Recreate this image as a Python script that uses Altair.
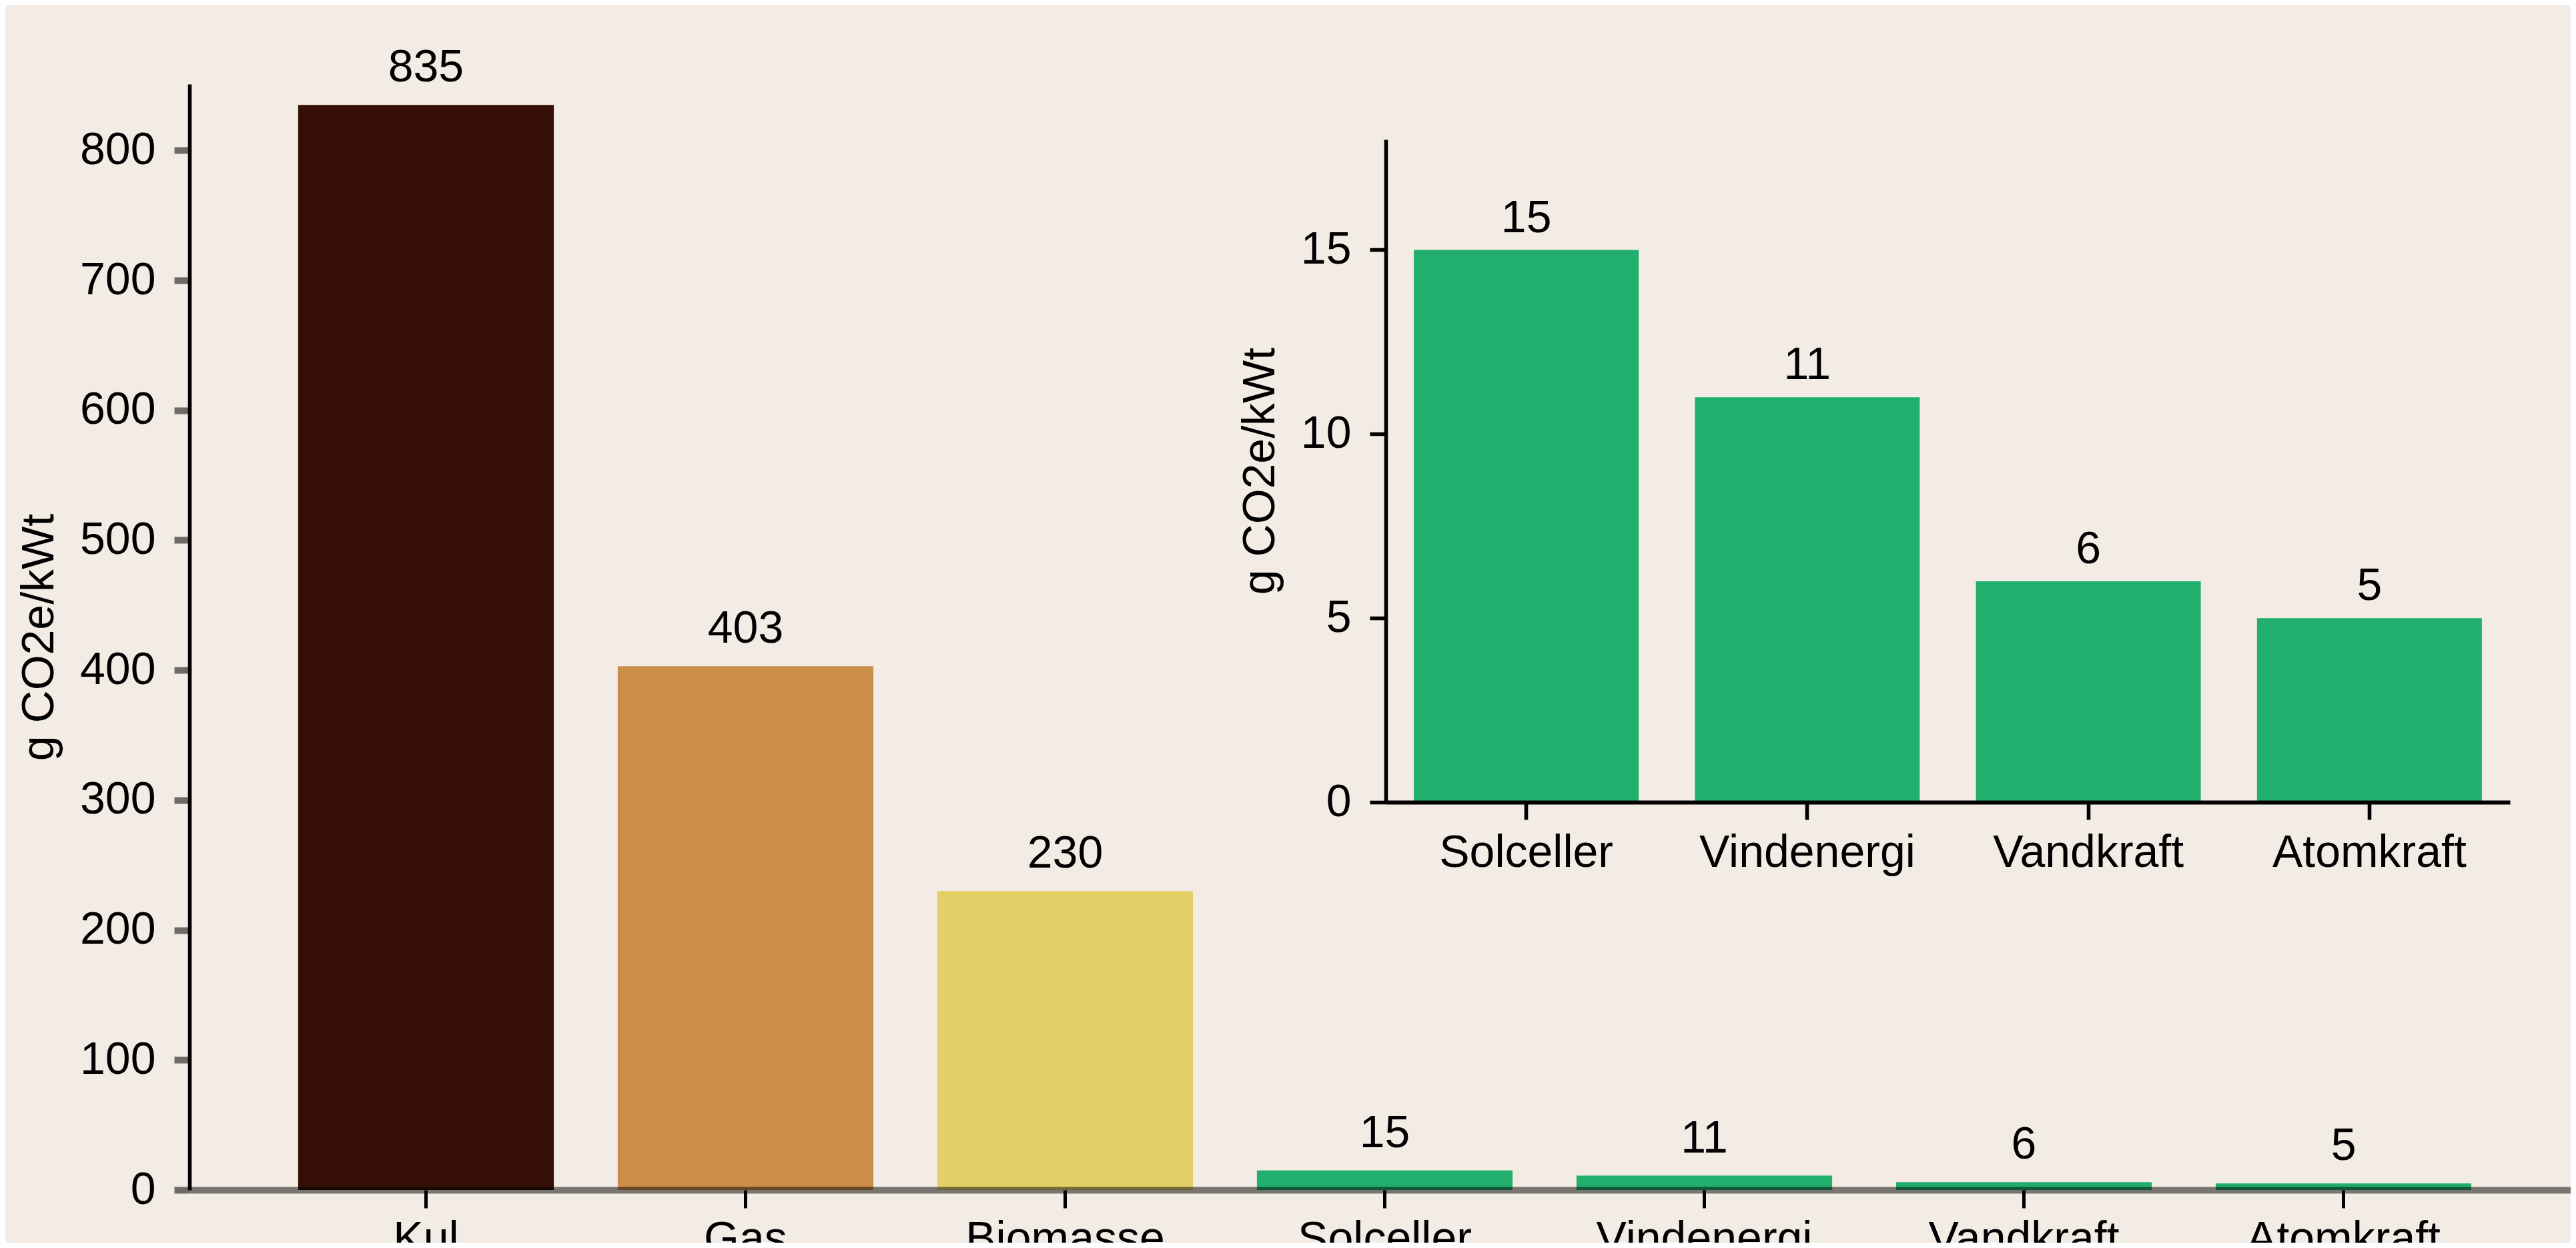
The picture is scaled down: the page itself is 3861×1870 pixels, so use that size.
import altair as alt
import pandas as pd

# ---- data ----
categories = ["Kul", "Gas", "Biomasse", "Solceller", "Vindenergi", "Vandkraft", "Atomkraft"]
values = [835, 403, 230, 15, 11, 6, 5]
colors = ["#350E06", "#CB8D4A", "#E3CF65", "#22AE6C", "#22AE6C", "#22AE6C", "#22AE6C"]

inset_categories = ["Solceller", "Vindenergi", "Vandkraft", "Atomkraft"]
inset_values = [15, 11, 6, 5]
inset_color = "#22AE6C"

main_ticks = [0, 100, 200, 300, 400, 500, 600, 700, 800]
inset_ticks = [0, 5, 10, 15]
y_title = "g CO2e/kWt"

FONT = "Liberation Sans"
FS = 68
BG = "#F3ECE5"

PL, PB = 276, 79          # padding left / bottom (main plot origin)
W, H = 3845 - PL, 1854 - PB

main_df = pd.DataFrame({"cat": categories, "val": values, "col": colors})
inset_df = pd.DataFrame({"cat": inset_categories, "val": inset_values})

# ---- main chart ----
mx_scale = alt.Scale(type="band", range=[0, 3583], paddingInner=0.2, paddingOuter=0.34)
my_scale = alt.Scale(domain=[0, 851], range=[H, 118], nice=False, zero=True)

mx = alt.X(
    "cat:N", sort=categories, title=None, scale=mx_scale,
    axis=alt.Axis(orient="bottom", labelAngle=0, labelLimit=0,
                  domainColor="black", domainOpacity=0.5, domainWidth=10,
                  tickColor="black", tickWidth=5, tickSize=27,
                  labelFontSize=FS, labelFont=FONT, labelColor="black",
                  labelPadding=13, labelBaseline="top", zindex=1, grid=False),
)
my = alt.Y(
    "val:Q", title=y_title, scale=my_scale,
    axis=alt.Axis(orient="left", values=main_ticks, grid=False,
                  domainColor="black", domainWidth=5.6,
                  tickColor="black", tickOpacity=0.55, tickWidth=10, tickSize=23,
                  labelFontSize=FS, labelFont=FONT, labelColor="black", labelPadding=28,
                  titleFontSize=FS, titleFont=FONT, titleColor="black",
                  titleFontWeight="normal", titleAngle=270, titleBaseline="alphabetic",
                  titleAlign="center", titleX=-205, titleY=946.5),
)

main_bars = alt.Chart(main_df).mark_bar().encode(
    x=mx, y=my, color=alt.Color("col:N", scale=None)
)
main_text = alt.Chart(main_df).mark_text(
    baseline="alphabetic", dy=-35, fontSize=FS, font=FONT, color="black"
).encode(
    x=alt.X("cat:N", sort=categories, axis=None, scale=mx_scale, bandPosition=0.5),
    y=alt.Y("val:Q", axis=None, scale=my_scale),
    text=alt.Text("val:Q"),
)

# ---- inset chart ----
IX0 = 2069 - PL
ix_scale = alt.Scale(type="band", range=[IX0, IX0 + 1685], paddingInner=0.2, paddingOuter=0.1)
iy_scale = alt.Scale(domain=[0, 18], range=[1194, 201], nice=False, zero=True)

ix = alt.X(
    "cat:N", sort=inset_categories, title=None, scale=ix_scale,
    axis=alt.Axis(orient="bottom", offset=-(H - 1194), labelAngle=0, labelLimit=0,
                  domainColor="black", domainWidth=6,
                  tickColor="black", tickWidth=5.6, tickSize=26,
                  labelFontSize=FS, labelFont=FONT, labelColor="black",
                  labelPadding=16, labelBaseline="top", zindex=1, grid=False),
)
iy = alt.Y(
    "val:Q", title=y_title, scale=iy_scale,
    axis=alt.Axis(orient="left", offset=-IX0, values=inset_ticks, grid=False,
                  domainColor="black", domainWidth=5.6,
                  tickColor="black", tickWidth=5.6, tickSize=24,
                  labelFontSize=FS, labelFont=FONT, labelColor="black", labelPadding=28,
                  titleFontSize=FS, titleFont=FONT, titleColor="black",
                  titleFontWeight="normal", titleAngle=270, titleBaseline="alphabetic",
                  titleAlign="center", titleX=-168, titleY=697.5, zindex=1),
)

inset_bars = alt.Chart(inset_df).mark_bar(color=inset_color).encode(x=ix, y=iy)
inset_text = alt.Chart(inset_df).mark_text(
    baseline="alphabetic", dy=-27, fontSize=FS, font=FONT, color="black"
).encode(
    x=alt.X("cat:N", sort=inset_categories, axis=None, scale=ix_scale, bandPosition=0.5),
    y=alt.Y("val:Q", axis=None, scale=iy_scale),
    text=alt.Text("val:Q"),
)

chart = (
    alt.layer(main_bars, main_text, inset_bars, inset_text)
    .resolve_scale(x="independent", y="independent")
    .properties(width=W, height=H, autosize=alt.AutoSizeParams(type="none"),
                padding={"left": PL, "top": 0, "right": 0, "bottom": PB},
                background=BG)
    .configure_view(stroke=None)
)

chart.save("out.html", embed_options={"renderer": "svg", "actions": False})
